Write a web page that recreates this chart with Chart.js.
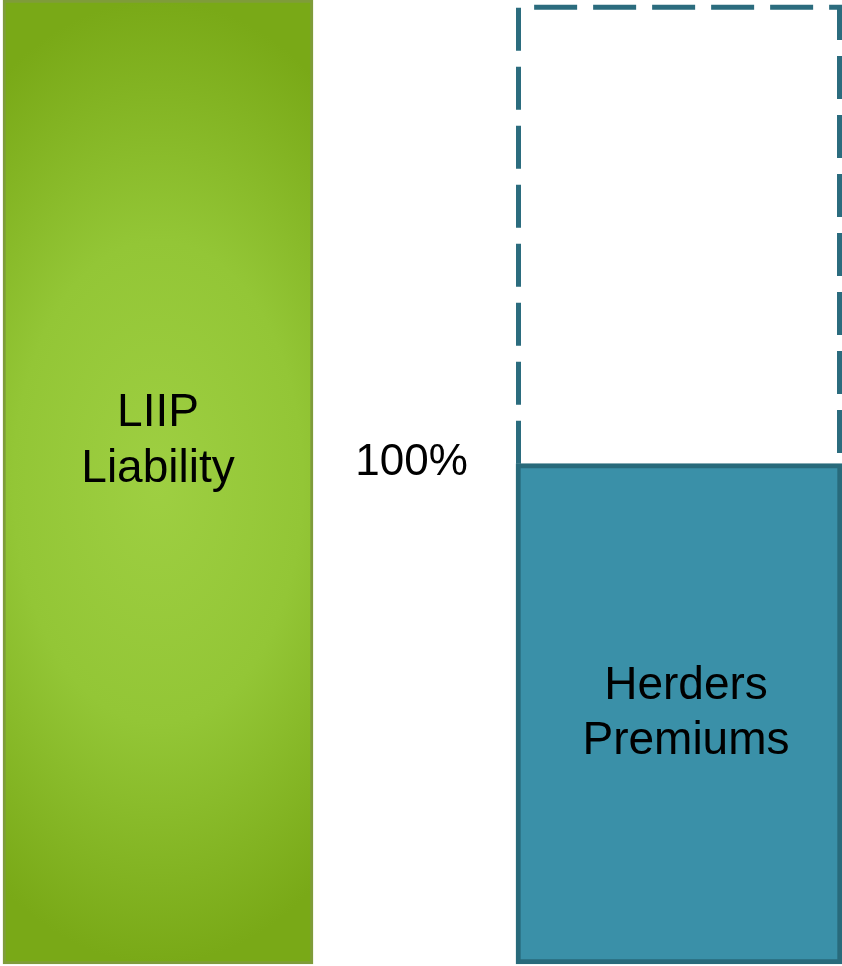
<!DOCTYPE html>
<html>
<head>
<meta charset="utf-8">
<script src="https://cdn.jsdelivr.net/npm/chart.js@4/dist/chart.umd.min.js"></script>
<style>
  html, body { margin: 0; padding: 0; background: #ffffff; }
  #wrap { width: 842px; height: 966px; }
</style>
</head>
<body>
<div id="wrap"><canvas id="c" width="842" height="966"></canvas></div>
<script>
// ---- Data ----
const categories = ['LIIP Liability', '', 'Herders Premiums'];
const barLabels = [['LIIP', 'Liability'], [], ['Herders', 'Premiums']];
const liability = [100, null, null];
const premiums = [null, null, 51.9];
const remainder = [null, null, [51.9, 99.5]];
const ratioLabel = '100%';

const FONT = '"Liberation Sans", Arial, "DejaVu Sans", sans-serif';

// elliptical radial gradient pattern for the green bar
let greenPattern = null;
function greenFill(ctx) {
  const chart = ctx.chart;
  if (!chart.chartArea) return '#8cbf2c';
  if (greenPattern) return greenPattern;
  const xs = chart.scales.x, ys = chart.scales.y;
  const cx = xs.getPixelForValue(0);
  const top = ys.getPixelForValue(100), bot = ys.getPixelForValue(0);
  const cy = (top + bot) / 2;
  const ry = (bot - top) / 2;
  const sx = 0.6;
  const off = document.createElement('canvas');
  off.width = chart.width; off.height = chart.height;
  const o = off.getContext('2d');
  o.setTransform(sx, 0, 0, 1, cx, cy);
  const g = o.createRadialGradient(0, 0, 0, 0, 0, ry);
  g.addColorStop(0, '#9ecf42');
  g.addColorStop(0.5, '#93c636');
  g.addColorStop(1, '#79a917');
  o.fillStyle = g;
  o.fillRect(-cx / sx - 10, -cy - 10, chart.width / sx + 20, chart.height + 20);
  greenPattern = chart.ctx.createPattern(off, 'no-repeat');
  return greenPattern;
}

const overlay = {
  id: 'overlay',
  afterDatasetsDraw(chart) {
    const ctx = chart.ctx;
    // dashed outline for remainder
    const dm = chart.getDatasetMeta(2);
    dm.data.forEach((el, i) => {
      if (remainder[i] == null) return;
      const p = el.getProps(['x', 'y', 'base', 'width'], true);
      const lw = 5;
      const l = p.x - p.width / 2 + lw / 2, r = p.x + p.width / 2 - lw / 2;
      const t = Math.min(p.y, p.base) + lw / 2, b = Math.max(p.y, p.base);
      ctx.save();
      ctx.strokeStyle = '#2b6c7e';
      ctx.lineWidth = lw;
      ctx.setLineDash([43, 16]);
      ctx.beginPath();
      ctx.moveTo(l, b);
      ctx.lineTo(l, t);
      ctx.lineTo(r, t);
      ctx.lineTo(r, b);
      ctx.stroke();
      ctx.restore();
    });
    // labels inside bars
    ctx.save();
    ctx.fillStyle = '#000000';
    ctx.textAlign = 'center';
    ctx.textBaseline = 'alphabetic';
    ctx.font = '46px ' + FONT;
    const gm = chart.getDatasetMeta(0).data[0].getProps(['x', 'y', 'base'], true);
    const gmid = (gm.y + gm.base) / 2;
    ctx.fillText(barLabels[0][0], gm.x, gmid - 56);
    ctx.fillText(barLabels[0][1], gm.x, gmid);
    const tm = chart.getDatasetMeta(1).data[2].getProps(['x', 'y', 'base'], true);
    const tmid = (tm.y + tm.base) / 2;
    ctx.fillText(barLabels[2][0], tm.x + 7, tmid - 15);
    ctx.fillText(barLabels[2][1], tm.x + 7, tmid + 40);
    // ratio label
    ctx.font = '44px ' + FONT;
    const mx = chart.scales.x.getPixelForValue(1);
    ctx.fillText(ratioLabel, mx - 7, tm.y + 11);
    ctx.restore();
  }
};

new Chart(document.getElementById('c'), {
  type: 'bar',
  data: {
    labels: categories,
    datasets: [
      {
        label: 'LIIP Liability',
        data: liability,
        backgroundColor: greenFill,
        borderColor: '#7f9c3a',
        borderWidth: 3,
        borderSkipped: false,
        barThickness: 310,
        grouped: false,
        clip: false
      },
      {
        label: 'Herders Premiums',
        data: premiums,
        backgroundColor: '#3a90a8',
        borderColor: '#286a7b',
        borderWidth: 5,
        borderSkipped: false,
        barThickness: 326,
        grouped: false,
        clip: false
      },
      {
        label: 'Remainder',
        data: remainder,
        backgroundColor: 'rgba(0,0,0,0)',
        borderWidth: 0,
        barThickness: 326,
        grouped: false,
        clip: false
      }
    ]
  },
  options: {
    responsive: false,
    animation: false,
    devicePixelRatio: 1,
    layout: { padding: { left: 27.75, right: 32.75, top: 0, bottom: 2 } },
    plugins: { legend: { display: false }, tooltip: { enabled: false } },
    scales: {
      x: { display: false, offset: true },
      y: { display: false, min: 0, max: 100 }
    }
  },
  plugins: [overlay]
});
</script>
</body>
</html>
